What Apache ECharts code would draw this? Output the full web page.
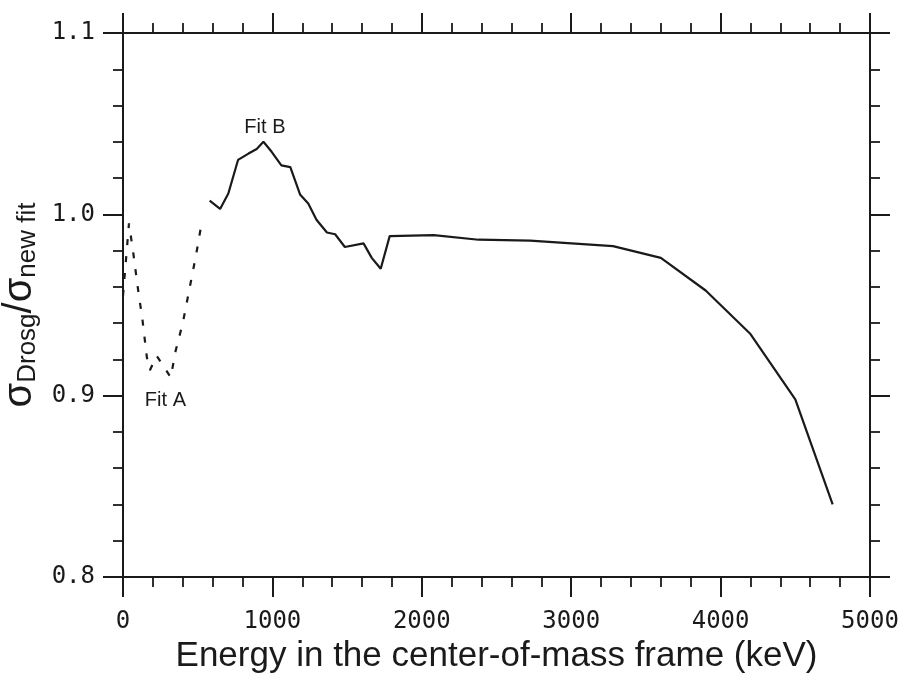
<!DOCTYPE html>
<html>
<head>
<meta charset="utf-8">
<script src="https://cdn.jsdelivr.net/npm/echarts@6/dist/echarts.min.js"></script>
<style>
  html, body { margin: 0; padding: 0; background: #fff; }
  #chart { width: 907px; height: 677px; }
</style>
</head>
<body>
<div id="chart"></div>
<script>
// Energy axis ticks (keV) and ratio axis ticks
const energyTicks = [0, 1000, 2000, 3000, 4000, 5000];
const ratioTicks = [0.8, 0.9, 1.0, 1.1];

// Fit A: dashed curve at low energy
const fitAEnergy = [0, 40, 70, 100, 130, 160, 180, 225, 320, 350, 400, 445, 490, 530];
const fitARatio  = [0.955, 0.995, 0.978, 0.959, 0.942, 0.921, 0.914, 0.922, 0.910, 0.924, 0.940, 0.959, 0.978, 0.997];

// Fit B: solid curve
const fitBEnergy = [580, 650, 705, 770, 840, 895, 940, 995, 1060, 1120, 1185, 1240, 1295, 1365, 1420, 1485, 1610, 1665, 1725, 1785, 2080, 2380, 2725, 3280, 3600, 3900, 4200, 4500, 4750];
const fitBRatio  = [1.0075, 1.003, 1.0115, 1.030, 1.0335, 1.036, 1.040, 1.0345, 1.027, 1.026, 1.011, 1.006, 0.997, 0.990, 0.989, 0.982, 0.984, 0.976, 0.970, 0.988, 0.9885, 0.986, 0.9855, 0.9825, 0.976, 0.958, 0.934, 0.898, 0.840];

// Curve labels: [text, energy, ratio]
const curveLabels = [
  ['Fit A', 284, 0.8976],
  ['Fit B', 950, 1.048]
];

const ink = '#1a1a1a';
const pair = (xs, ys) => xs.map((x, i) => [x, ys[i]]);

function frameAxis(isX, position, withLabels) {
  const ticks = isX ? energyTicks : ratioTicks;
  return {
    type: 'value',
    position: position,
    min: ticks[0],
    max: ticks[ticks.length - 1],
    interval: isX ? 1000 : 0.1,
    splitNumber: ticks.length - 1,
    axisLine: { show: true, onZero: false, lineStyle: { color: ink, width: 2 } },
    axisTick: { show: true, inside: false, length: 20, lineStyle: { color: ink, width: 2 } },
    minorTick: { show: true, splitNumber: 5, length: 10, lineStyle: { color: ink, width: 1.8 } },
    splitLine: { show: false },
    minorSplitLine: { show: false },
    axisLabel: {
      show: withLabels,
      color: ink,
      fontFamily: 'DejaVu Sans Mono',
      fontSize: 24,
      margin: isX ? 33 : 28,
      formatter: isX ? (v => String(v)) : (v => v.toFixed(1))
    }
  };
}

const xBottom = frameAxis(true, 'bottom', true);
xBottom.name = 'Energy in the center-of-mass frame (keV)';
xBottom.nameLocation = 'middle';
xBottom.nameGap = 59;
xBottom.nameTextStyle = { fontFamily: 'Liberation Sans', fontSize: 35, color: ink };

const xTop = frameAxis(true, 'top', false);

const yLeft = frameAxis(false, 'left', true);
yLeft.name = '{s|σ}{sub|Drosg}{s|/σ}{sub|new fit}';
yLeft.nameLocation = 'middle';
yLeft.nameRotate = 90;
yLeft.nameGap = 78;
yLeft.nameTextStyle = {
  fontFamily: 'Liberation Sans',
  color: ink,
  rich: {
    s: { fontFamily: 'Liberation Sans', fontSize: 40, lineHeight: 42, color: ink, verticalAlign: 'middle' },
    sub: { fontFamily: 'Liberation Sans', fontSize: 26, lineHeight: 26, color: ink, verticalAlign: 'bottom' }
  }
};

const yRight = frameAxis(false, 'right', false);

const chart = echarts.init(document.getElementById('chart'), null, { renderer: 'canvas' });

chart.setOption({
  animation: false,
  backgroundColor: '#ffffff',
  grid: { left: 123, right: 37, top: 33, bottom: 100, containLabel: false, outerBoundsMode: 'none' },
  xAxis: [xBottom, xTop],
  yAxis: [yLeft, yRight],
  series: [
    {
      name: 'Fit A',
      type: 'line',
      xAxisIndex: 0,
      yAxisIndex: 0,
      data: pair(fitAEnergy, fitARatio),
      showSymbol: false,
      symbol: 'none',
      lineStyle: { color: ink, width: 2.2, type: [6, 11] },
      markPoint: {
        symbol: 'circle',
        symbolSize: 1,
        itemStyle: { color: 'rgba(0,0,0,0)' },
        label: { show: true, position: 'inside', color: ink, fontFamily: 'Liberation Sans', fontSize: 20, formatter: p => p.name },
        data: [{ name: curveLabels[0][0], coord: [curveLabels[0][1], curveLabels[0][2]] }]
      }
    },
    {
      name: 'Fit B',
      type: 'line',
      xAxisIndex: 0,
      yAxisIndex: 0,
      data: pair(fitBEnergy, fitBRatio),
      showSymbol: false,
      symbol: 'none',
      lineStyle: { color: ink, width: 2.2 },
      markPoint: {
        symbol: 'circle',
        symbolSize: 1,
        itemStyle: { color: 'rgba(0,0,0,0)' },
        label: { show: true, position: 'inside', color: ink, fontFamily: 'Liberation Sans', fontSize: 20, formatter: p => p.name },
        data: [{ name: curveLabels[1][0], coord: [curveLabels[1][1], curveLabels[1][2]] }]
      }
    }
  ]
});
</script>
</body>
</html>
